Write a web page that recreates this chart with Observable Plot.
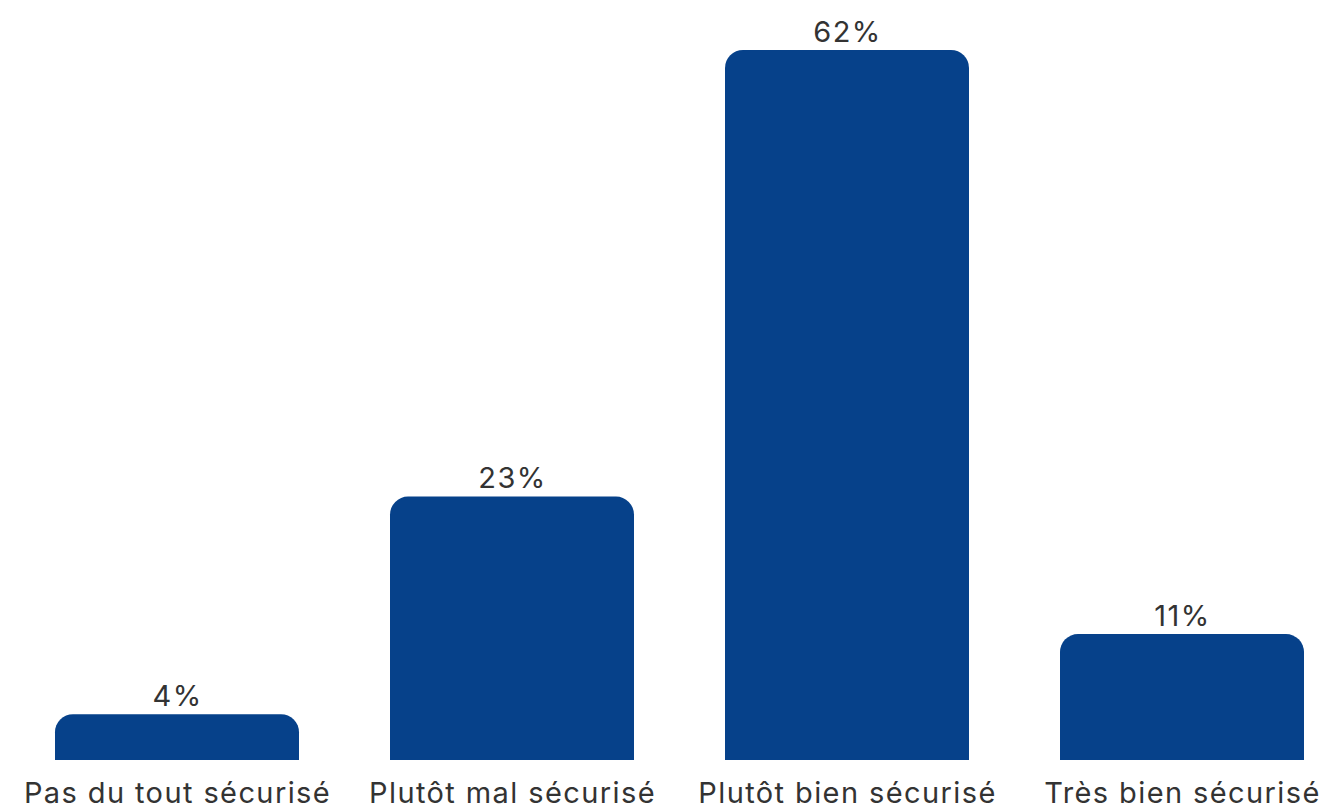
<!DOCTYPE html>
<html>
<head>
<meta charset="utf-8">
<script src="https://cdn.jsdelivr.net/npm/d3@7"></script>
<script src="https://cdn.jsdelivr.net/npm/@observablehq/plot@0.6"></script>
<style>
  html, body { margin: 0; padding: 0; background: #fff; }
  #chart svg { display: block; }
  #chart svg text { letter-spacing: 1.4px; }
</style>
</head>
<body>
<div id="chart"></div>
<script>
const categories = ["Pas du tout sécurisé", "Plutôt mal sécurisé", "Plutôt bien sécurisé", "Très bien sécurisé"];
const values = [4, 23, 62, 11];
const valueLabels = ["4%", "23%", "62%", "11%"];

const data = categories.map((c, i) => ({category: c, value: values[i], label: valueLabels[i]}));

const chart = Plot.plot({
  width: 1326,
  height: 809,
  marginTop: 50,
  marginBottom: 49,
  marginLeft: 55,
  marginRight: 22,
  style: {fontFamily: "Inter, sans-serif", fontSize: "29px", color: "#333", background: "#fff"},
  x: {domain: categories, paddingInner: 0.272, paddingOuter: 0, label: null},
  y: {domain: [0, 62], axis: null},
  marks: [
    Plot.barY(data, {x: "category", y: "value", fill: "#06418a", ry1: 18, rx1y1: 18, rx2y1: 18}),
    Plot.text(data, {x: "category", y: "value", text: "label", lineAnchor: "bottom", dy: -9, fill: "#333", fontSize: 29}),
    Plot.axisX({tickSize: 0, tickPadding: 22, fontSize: 29, fill: "#333", label: null})
  ]
});
document.getElementById("chart").appendChild(chart);
</script>
</body>
</html>
